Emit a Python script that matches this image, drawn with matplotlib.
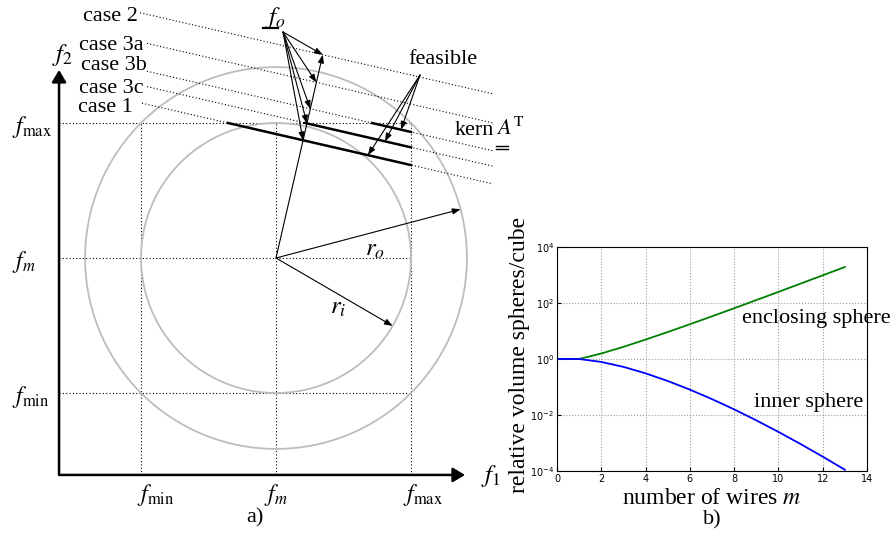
import numpy as np
import matplotlib.pyplot as plt

plt.rcParams['font.family'] = ['Liberation Serif', 'DejaVu Serif']
plt.rcParams['mathtext.fontset'] = 'stix'

# panel a), units of half the box width, f_m at (0, 0)
case_names = ['case 2', 'case 3a', 'case 3b', 'case 3c', 'case 1']
case_dist = [1.545, 1.335, 1.134, 1.023, 0.895]      # distance of each kern line from f_m
case_x0 = [-1.007, -0.956, -0.956, -0.956, -0.993]   # start of the dotted lines
label_x = [-1.026, -0.978, -0.956, -0.978, -1.059]
label_y = [1.79, 1.575, 1.427, 1.256, 1.116]
kern_slope = 0.23
f_o = (0.052, 1.674)
r_o_angle = 14.8
r_i_angle = -30.2
feasible_x = [0.926, 0.807, 0.681]   # arrow targets on case 3b, 3c, 1
feasible_cases = ['case 3b', 'case 3c', 'case 1']

# panel b)
m = [0, 1, 2, 3, 4, 5, 6, 7, 8, 9, 10, 11, 12, 13]
inner = [1, 1, 0.785, 0.524, 0.308, 0.164, 0.0807, 0.0369, 0.0159,
         0.00644, 0.00249, 0.00092, 0.000326, 0.000111]
enclosing = [1, 1, 1.57, 2.72, 4.93, 9.2, 17.4, 33.5, 64.9,
             127, 249, 493, 973, 1930]

fig = plt.figure(figsize=(8.95, 5.4), dpi=100)

ax = fig.add_axes([0, 0, 540 / 895, 1])
ax.set_xlim(-276 / 135, 264 / 135)
ax.set_ylim(-282 / 135, 258 / 135)
ax.axis('off')

dot = dict(color='k', lw=0.8, ls=(0, (1, 2)))
small = dict(arrowstyle='-|>,head_length=0.4,head_width=0.15', mutation_scale=12,
             lw=0.8, color='k', shrinkA=0, shrinkB=0)
big = dict(arrowstyle='-|>,head_length=0.6,head_width=0.36', mutation_scale=12,
           lw=1.8, color='k', shrinkA=0, shrinkB=0)

ax0 = -1.607
# box and help lines
for v in [-1, 0, 1]:
    ax.plot([v, v], [ax0, 1], **dot)
    ax.plot([ax0, 1], [v, v], **dot)

t = np.linspace(0, 2 * np.pi, 400)
for r in [1, np.sqrt(2)]:
    ax.plot(r * np.cos(t), r * np.sin(t), color='#bdbdbd', lw=1.3)

# axes arrows
ax.annotate('', xy=(1.40, ax0), xytext=(ax0, ax0), arrowprops=big)
ax.annotate('', xy=(ax0, 1.393), xytext=(ax0, ax0), arrowprops=big)

nrm = np.hypot(kern_slope, 1)
nx, ny = kern_slope / nrm, 1 / nrm
x_end = 1.607
for name, d, x0, lx, ly in zip(case_names, case_dist, case_x0, label_x, label_y):
    xs = np.array([x0, x_end])
    ax.plot(xs, (d - nx * xs) / ny, **dot)
    ax.text(lx, ly, name, ha='right', va='center', fontsize=16)
    x_top = (d - ny) / nx
    if x_top < 1:
        ax.plot([x_top, 1], [1, (d - nx) / ny], color='k', lw=1.8)
    ax.annotate('', xy=(d * nx, d * ny), xytext=f_o, arrowprops=small)

# ray from f_m normal to kern lines
ax.annotate('', xy=(case_dist[0] * nx, case_dist[0] * ny), xytext=(0, 0), arrowprops=small)

# radii
for ang, r in [(r_o_angle, np.sqrt(2)), (r_i_angle, 1)]:
    a = np.radians(ang)
    ax.annotate('', xy=(r * np.cos(a), r * np.sin(a)), xytext=(0, 0), arrowprops=small)
ax.text(0.73, 0.06, '$r_o$', fontsize=18, ha='center', va='center')
ax.text(0.46, -0.37, '$r_i$', fontsize=18, ha='center', va='center')

# feasible arrows
for name, fx in zip(feasible_cases, feasible_x):
    d = case_dist[case_names.index(name)]
    ax.annotate('', xy=(fx, (d - nx * fx) / ny), xytext=(1.067, 1.356), arrowprops=small)
ax.text(1.237, 1.474, 'feasible', fontsize=16, ha='center', va='center')

# f_o label
ax.text(-0.007, 1.778, '$f_o$', fontsize=18, ha='center', va='center')
ax.plot([-0.096, 0.015], [1.704, 1.704], color='k', lw=1.6)

# kern A^T
ax.text(1.326, 0.911, 'kern', fontsize=16, ha='left', va='baseline')
ax.text(1.63, 0.911, r'$A^{\mathrm{T}}$', fontsize=16, ha='left', va='baseline')
ax.plot([1.63, 1.72], [0.832, 0.832], color='k', lw=1.0)
ax.plot([1.63, 1.72], [0.810, 0.810], color='k', lw=1.0)

# tick-like labels
for y, s in [(1, r'$f_{\mathrm{max}}$'), (0, r'$f_m$'), (-1, r'$f_{\mathrm{min}}$')]:
    ax.text(-1.956, y - 0.03, s, fontsize=17, ha='left', va='center')
ax.text(-1.03, -1.756, r'$f_{\mathrm{min}}$', fontsize=17, ha='left', va='center')
ax.text(0, -1.756, r'$f_m$', fontsize=17, ha='center', va='center')
ax.text(0.94, -1.756, r'$f_{\mathrm{max}}$', fontsize=17, ha='left', va='center')
ax.text(1.515, -1.615, '$f_1$', fontsize=18, ha='left', va='center')
ax.text(-1.578, 1.504, '$f_2$', fontsize=18, ha='center', va='center')
ax.text(-0.156, -1.926, 'a)', fontsize=16, ha='center', va='center')

# panel b)
bx = fig.add_axes([557 / 895, 69 / 540, 310 / 895, 224 / 540])
bx.semilogy(m, enclosing, color='#008000', lw=1.3)
bx.semilogy(m, inner, color='#0000ff', lw=1.3)
bx.set_xlim(0, 14)
bx.set_ylim(1e-4, 1e4)
bx.set_xticks(range(0, 15, 2))
bx.set_yticks([1e-4, 1e-2, 1e0, 1e2, 1e4])
bx.minorticks_off()
bx.grid(True, color='#999999', ls=':', lw=0.8)
bx.tick_params(direction='in', length=3, labelsize=7, labelfontfamily='DejaVu Sans', pad=2)
bx.set_xlabel('number of wires $m$', fontsize=17, labelpad=3)
bx.set_ylabel('relative volume spheres/cube', fontsize=17)
bx.yaxis.set_label_coords(-0.088, 0.52)
bx.text(8.35, 29.1, 'enclosing sphere', fontsize=16, ha='left', va='center')
bx.text(8.9, 0.0291, 'inner sphere', fontsize=16, ha='left', va='center')
bx.text(0.5, -0.22, 'b)', fontsize=16, ha='center', va='center', transform=bx.transAxes)

fig.savefig('out.png', dpi=100)
